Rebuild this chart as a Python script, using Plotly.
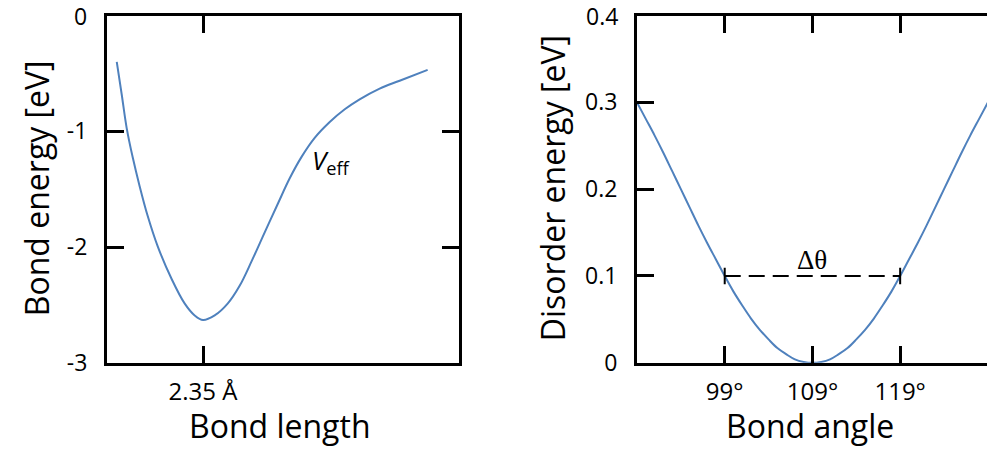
import plotly.graph_objects as go

# ---- data ----
bond_length = [1.811, 1.842, 1.873, 1.911, 1.954, 2.004, 2.067, 2.154, 2.236, 2.298, 2.35,
               2.423, 2.504, 2.579, 2.654, 2.735, 2.817, 2.892, 2.967, 3.048, 3.142,
               3.236, 3.329, 3.454, 3.579, 3.754]
bond_energy = [-0.401, -0.682, -0.972, -1.227, -1.474, -1.730, -1.994, -2.276, -2.489, -2.591, -2.631,
               -2.591, -2.489, -2.335, -2.122, -1.875, -1.628, -1.406, -1.219, -1.057, -0.920,
               -0.810, -0.724, -0.631, -0.563, -0.469]

angle_deg = list(range(89, 130))
half = [0.300, 0.281, 0.262, 0.242, 0.221, 0.200, 0.179, 0.158, 0.138, 0.119, 0.100,
        0.082, 0.066, 0.051, 0.038, 0.027, 0.017, 0.010, 0.004, 0.001]
disorder_energy = half + [0.0] + half[::-1]

left_yticks = [0, -1, -2, -3]
left_yticktext = ["0", "-1", "-2", "-3"]
left_xtick_val = [2.35]
left_xtick_txt = ["2.35 Å"]
right_yticks = [0, 0.1, 0.2, 0.3, 0.4]
right_yticktext = ["0", "0.1", "0.2", "0.3", "0.4"]
right_xtick_val = [99, 109, 119]
right_xtick_txt = ["99°", "109°", "119°"]
delta_range = [99, 119]
delta_level = 0.1

W, H = 987, 453
def px(x): return x / W
def py(y):
    # compensate measured vertical rendering offset
    yy = (y + 2.74) / 0.98
    return 1 - yy / H

BLUE = "#4F81BD"
FONT = "Open Sans"
TICKSIZE = 23

fig = go.Figure()
fig.add_trace(go.Scatter(x=bond_length, y=bond_energy, mode="lines",
                         line=dict(color=BLUE, width=2, shape="spline", smoothing=1.0),
                         xaxis="x", yaxis="y", showlegend=False, hoverinfo="skip"))
fig.add_trace(go.Scatter(x=angle_deg, y=disorder_energy, mode="lines",
                         line=dict(color=BLUE, width=2, shape="spline", smoothing=1.0),
                         xaxis="x2", yaxis="y2", showlegend=False, hoverinfo="skip"))

tick_common = dict(ticks="inside", ticklen=17, tickwidth=3, tickcolor="black", showline=True,
                   linewidth=3, linecolor="black", showgrid=False, zeroline=False)

ydom = [py(365), py(13)]
fig.update_layout(
    width=W, height=H, margin=dict(l=0, r=0, t=0, b=0),
    paper_bgcolor="white", plot_bgcolor="white",
    font=dict(family=FONT, color="black"),
    xaxis=dict(domain=[px(107), px(459)], range=[1.75, 3.95], tickvals=left_xtick_val, ticktext=left_xtick_txt,
               mirror="ticks", anchor="y", tickfont=dict(size=24), ticklabelstandoff=5, **tick_common),
    yaxis=dict(domain=ydom, range=[-3, 0], tickvals=left_yticks[1:], ticktext=left_yticktext[1:], mirror="ticks",
               anchor="x", tickfont=dict(size=TICKSIZE), ticklabelstandoff=12, **tick_common),
    xaxis2=dict(domain=[px(637), 1.0], range=[89, 128.9], tickvals=right_xtick_val, ticktext=right_xtick_txt,
                mirror="ticks", anchor="y2", tickfont=dict(size=24), ticklabelstandoff=5, **tick_common),
    yaxis2=dict(domain=ydom, range=[0, 0.4], tickvals=right_yticks[:-1], ticktext=right_yticktext[:-1], mirror=False,
                anchor="x2", tickfont=dict(size=TICKSIZE), ticklabelstandoff=12, **tick_common),
    yaxis3=dict(overlaying="y2", side="right", anchor="x2", range=[0, 0.4], tickvals=right_yticks,
                showticklabels=False, ticks="inside", ticklen=17, tickwidth=3, tickcolor="black",
                showline=False, showgrid=False, zeroline=False),
)

# top tick labels (placed at the axis values, which lie on the figure's top edge)
fig.add_annotation(xref="paper", yref="y", x=px(89), y=left_yticks[0], text=left_yticktext[0],
                   showarrow=False, xanchor="right", yanchor="middle", font=dict(size=TICKSIZE))
fig.add_annotation(xref="paper", yref="y2", x=px(620), y=right_yticks[-1], text=right_yticktext[-1],
                   showarrow=False, xanchor="right", yanchor="middle", font=dict(size=TICKSIZE))

# dashed Δθ marker
fig.add_shape(type="line", xref="x2", yref="y2", x0=delta_range[0], x1=delta_range[1], y0=delta_level, y1=delta_level,
              line=dict(color="black", width=2, dash="16px,8px"))
for xv in delta_range:
    fig.add_shape(type="line", xref="x2", yref="y2", x0=xv, x1=xv, y0=delta_level - 0.0095, y1=delta_level + 0.0095,
                  line=dict(color="black", width=2))

anns = [
    dict(x=px(36), y=py(188), text="Bond energy [eV]", textangle=-90, font=dict(size=32)),
    dict(x=px(552), y=py(188), text="Disorder energy [eV]", textangle=-90, font=dict(size=32)),
    dict(x=px(280), y=py(429), text="Bond length", font=dict(size=32)),
    dict(x=px(810), y=py(429), text="Bond angle", font=dict(size=32)),
    dict(x=px(331), y=py(160), text="<i>V</i><sub>eff</sub>", font=dict(size=26)),
    dict(x=px(812), y=py(261), text="Δθ", font=dict(size=27, family="Liberation Serif")),
]
for a in anns:
    fig.add_annotation(xref="paper", yref="paper", showarrow=False, xanchor="center", yanchor="middle", **a)

fig.write_html("out.html")
